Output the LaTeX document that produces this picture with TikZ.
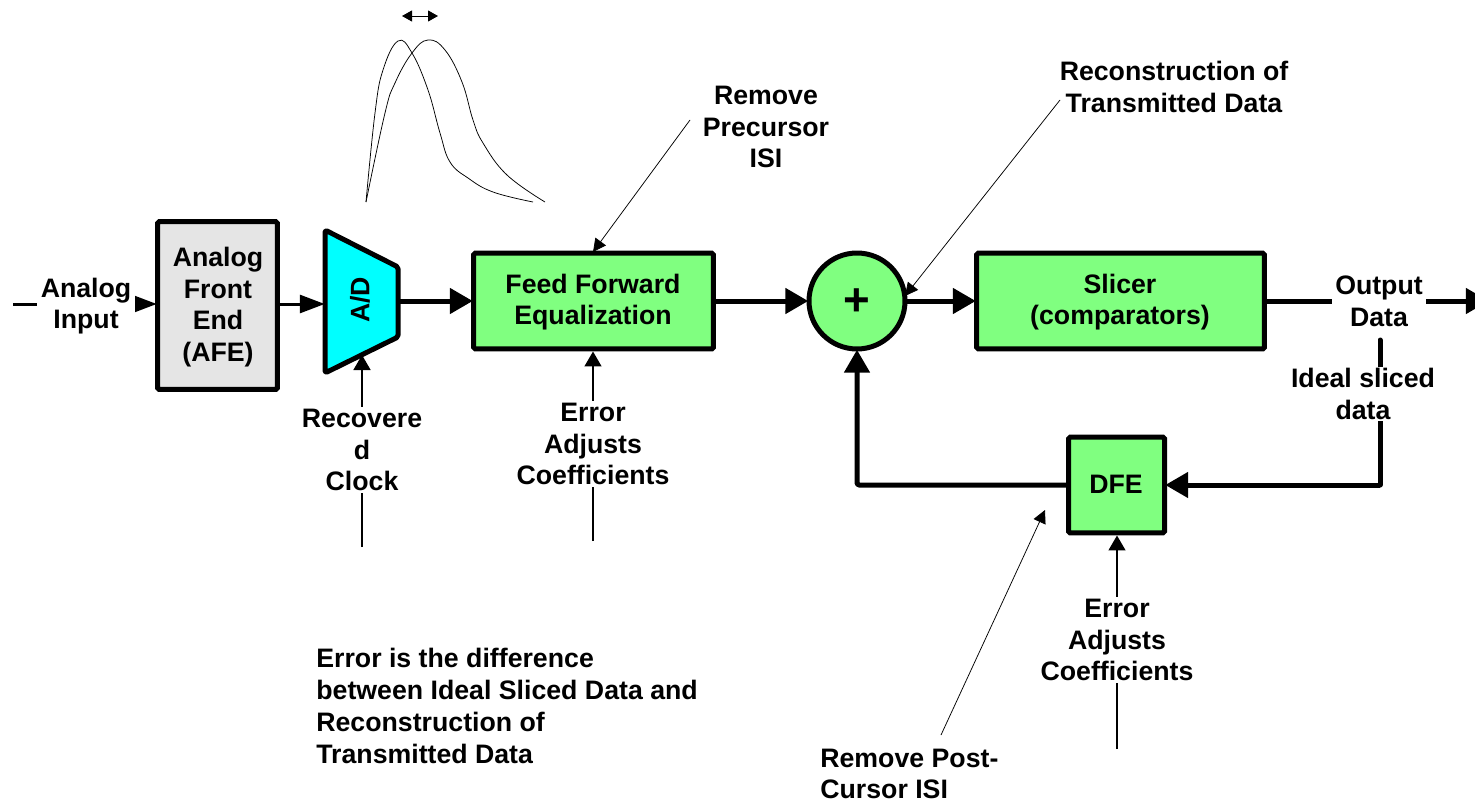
\documentclass[tikz,border=0pt]{standalone}
\usepackage{fontspec}
\setmainfont{Liberation Sans}
\usetikzlibrary{arrows.meta, calc}
\definecolor{mgreen}{RGB}{128,255,128}
\definecolor{mcyan}{RGB}{0,255,255}
\definecolor{mgray}{RGB}{229,229,229}
\begin{document}
\begin{tikzpicture}[x=.02cm, y=-.02cm,
    every node/.style={font=\fontsize{15.2}{18.1}\selectfont\bfseries, align=center, inner sep=0pt},
    block/.style={draw, line width=.1cm, rounded corners=1pt, fill=mgreen},
    label/.style={fill=white, inner xsep=2pt, inner ysep=1pt},
    arrow/.style={-{Triangle[length=.46cm, width=.5cm]}, line width=.1cm, line join=round, shorten >=-1pt},
    smallarrow/.style={-{Triangle[length=.5cm, width=.36cm]}, line width=.06cm, shorten >=-1pt},
    thinarrow/.style={-{Triangle[length=.3cm, width=.34cm]}, line width=.03cm},
    leader/.style={-{Triangle[length=.26cm, width=.26cm]}, line width=.015cm},
    wave/.style={line width=.015cm},
]
\useasboundingbox (0,0) rectangle (1475,801);

\node[block, fill=mgray, minimum width=2.4cm, minimum height=3.36cm] (afe) at (217.5,305.5) {};
\node[block, minimum width=4.8cm, minimum height=1.92cm] (ffe) at (593.5,301) {};
\node[block, circle, minimum size=1.92cm] (summer) at (857,301) {};
\node[block, minimum width=5.76cm, minimum height=1.92cm] (slicer) at (1120.5,301) {};
\node[block, minimum width=1.92cm, minimum height=1.92cm] (dfe) at (1116.5,485) {};

% A/D converter
\draw[block, fill=mcyan, line join=round] (325,230) -- (398,267) -- (398,337) -- (325,373) -- cycle;
\coordinate (adin) at (323,304);
\coordinate (adout) at (400,301);
\coordinate (adclk) at (362,355);
\node[rotate=90] (adc) at (360,300) {A/D};

% free ends
\coordinate (inputend) at (13,304);
\coordinate (outputend) at (1487,301);
\coordinate (idealtop) at (1380,340);
\coordinate (idealcorner) at (1380,485);
\coordinate (clockend) at (362,547);
\coordinate (ffeerrend) at (593,541);
\coordinate (dfeerrend) at (1117,749);

\draw[smallarrow] (inputend) -- (afe.west |- inputend);
\draw[smallarrow] (afe.east |- adin) -- (adin);
\draw[arrow] (adout) -- (adout -| ffe.west);
\draw[arrow] (ffe.east |- summer) -- (summer.west);
\draw[arrow] (summer.east) -- (summer -| slicer.west);
\draw[arrow] (slicer.east |- outputend) -- (outputend);
\draw[line width=.1cm, line cap=round] (idealtop) -- (idealcorner);
\draw[arrow] (idealcorner) -- (idealcorner -| dfe.east);
\draw[arrow, rounded corners=1pt] (dfe.west) -| (summer.south);

\draw[thinarrow] (clockend) -- (adclk);
\draw[thinarrow] (ffeerrend) -- (ffe.south -| ffeerrend);
\draw[thinarrow] (dfeerrend) -- (dfe.south -| dfeerrend);

% leader arrows
\coordinate (precursorend) at (690,120);
\coordinate (reconend) at (1060,100);
\coordinate (postend) at (941,735);
\coordinate (postat) at (1045,510);
\draw[leader] (precursorend) -- (593,252);
\draw[leader] (reconend) -- (905,296);
\draw[leader] (postend) -- (postat);

% pulses
\draw[wave] plot[smooth, tension=.7] coordinates {(366,202) (375,113) (383,70) (398,41) (412,53) (428,90) (440,133) (450,162) (468,178) (493,192) (533,202)};
\draw[wave] plot[smooth, tension=.7] coordinates {(366,202) (385,113) (395,83) (412,53) (428,40) (445,50) (462,82) (473,120) (483,143) (507,175) (545,202)};
\coordinate (shiftleft) at (402,16);
\coordinate (shiftright) at (438,16);
\draw[{Triangle[length=.2cm, width=.22cm]}-{Triangle[length=.2cm, width=.22cm]}, line width=.02cm] (shiftleft) -- (shiftright);

% text
\node[label] (inputtext) at (86,306) {Analog\\Input};
\node (afetext) at (218,307) {Analog\\Front\\End\\(AFE)};
\node (ffetext) at (593,302) {Feed Forward\\Equalization};
\node[font=\fontsize{26}{30}\selectfont\bfseries] (plus) at (857,302) {+};
\node (slicertext) at (1120,302) {Slicer\\(comparators)};
\node (dfetext) at (1116,484) {DFE};
\node[label] (outputtext) at (1379,301.5) {Output\\Data};
\node[label] (idealtext) at (1363,394) {Ideal sliced\\data};
\node[label] (clocktext) at (362,450) {Recovere\\d\\Clock};
\node[label] (ffeerr) at (593,444) {Error\\Adjusts\\Coefficients};
\node[label] (dfeerr) at (1117,640) {Error\\Adjusts\\Coefficients};
\node (precursor) at (766,127) {Remove\\Precursor\\ISI};
\node (recon) at (1174,87) {Reconstruction of\\Transmitted Data};
\node[align=left, anchor=west] (errornote) at (316,706) {Error is the difference\\between Ideal Sliced Data and\\Reconstruction of\\Transmitted Data};
\node[align=left, anchor=west] (postcursor) at (820,774) {Remove Post-\\Cursor ISI};
\end{tikzpicture}
\end{document}
